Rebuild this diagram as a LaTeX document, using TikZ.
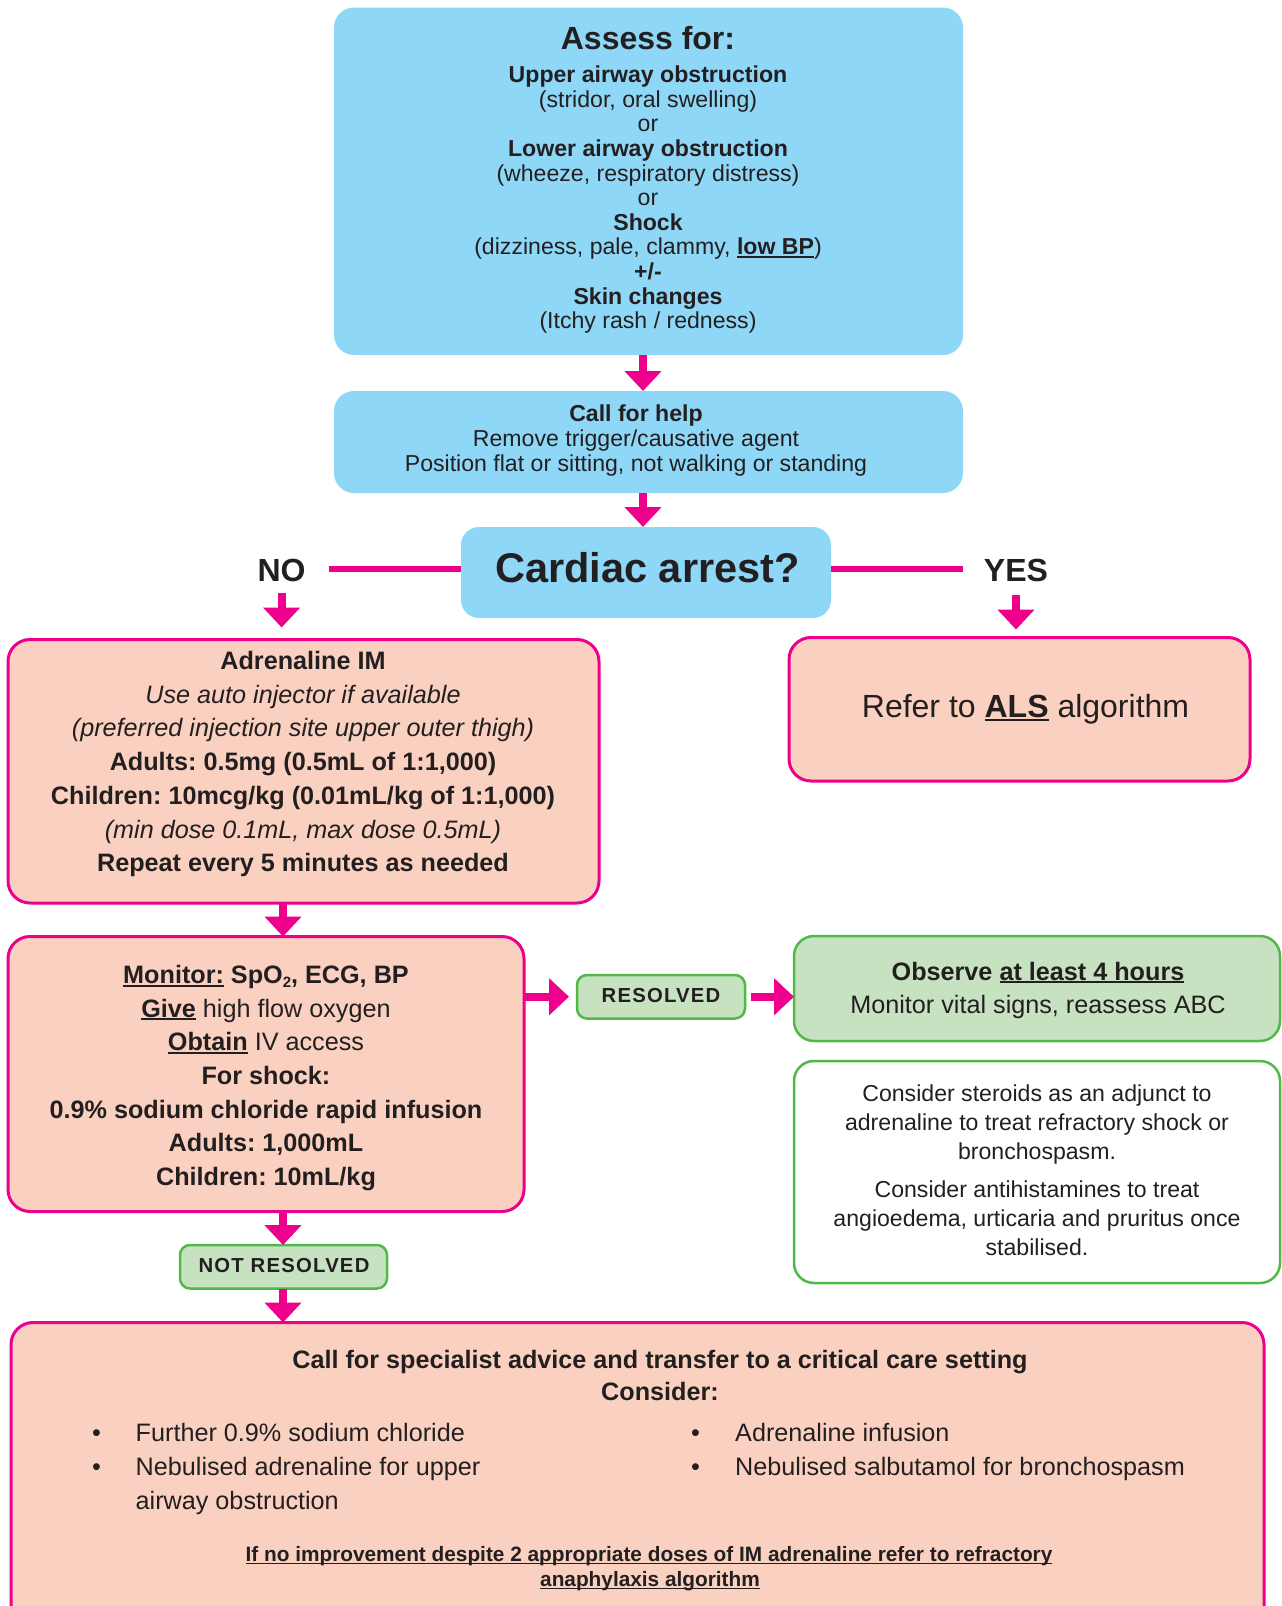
\documentclass[tikz,border=0pt]{standalone}
\usepackage{fontspec}
\setmainfont{Liberation Sans}
\usetikzlibrary{arrows.meta,calc}
\definecolor{cblue}{RGB}{142,215,247}
\definecolor{csalmon}{RGB}{250,209,192}
\definecolor{cpink}{RGB}{236,0,140}
\definecolor{cgreenf}{RGB}{199,226,193}
\definecolor{cgreenb}{RGB}{80,185,72}
\definecolor{ctext}{RGB}{35,31,32}
\frenchspacing
\newcommand\fs[2]{\fontsize{#1}{#2}\selectfont}
\newcommand\ulx[1]{\setbox0\hbox{#1}\rlap{\rule[-0.13em]{\wd0}{0.075em}}\box0\relax}
\tikzset{
 box/.style={rectangle, inner sep=0pt, outer sep=0pt},
 bluebox/.style={box, fill=cblue, rounded corners=20pt},
 pinkbox/.style={box, fill=csalmon, draw=cpink, line width=3pt, rounded corners=22pt},
 greenbox/.style={box, fill=cgreenf, draw=cgreenb, line width=2.5pt, rounded corners=20pt},
 notebox/.style={box, fill=white, draw=cgreenb, line width=2.5pt, rounded corners=20pt},
 tagbox/.style={box, fill=cgreenf, draw=cgreenb, line width=2.5pt, rounded corners=10pt},
 arr/.style={draw=cpink, line width=8pt, -{Triangle[width=36pt,length=20pt]}},
 pinkline/.style={draw=cpink, line width=6.5pt},
 tx/.style={anchor=base, inner sep=0pt, text=ctext},
 txl/.style={anchor=base west, inner sep=0pt, text=ctext},
 ta/.style={tx, font=\fs{23.1}{27}},
 tab/.style={tx, font=\fs{23.1}{27}\bfseries},
 tb/.style={tx, font=\fs{25.2}{29}},
 tbb/.style={tx, font=\fs{25.2}{29}\bfseries},
 tbi/.style={tx, font=\fs{25.2}{29}\itshape},
 tbl/.style={txl, font=\fs{25.2}{29}},
 tag/.style={tx, font=\fs{20.3}{24}\bfseries\addfontfeatures{LetterSpace=6}},
}
\begin{document}
\begin{tikzpicture}[x=1pt,y=-1pt]
\useasboundingbox (0,0) rectangle (1282,1606);

% boxes
\node[bluebox, minimum width=629pt, minimum height=347.5pt] (assess) at (648.5,181.25) {};
\node[bluebox, minimum width=629pt, minimum height=102pt] (call) at (648.5,442) {};
\node[bluebox, minimum width=370pt, minimum height=91pt, rounded corners=18pt] (cardiac) at (646,572.5) {};
\node[pinkbox, minimum width=591pt, minimum height=263.5pt] (adr) at (303.5,771.25) {};
\node[pinkbox, minimum width=461pt, minimum height=143.5pt] (refer) at (1019.5,709.25) {};
\node[pinkbox, minimum width=516pt, minimum height=275pt] (monitor) at (266,1074) {};
\node[tagbox, minimum width=168pt, minimum height=43.5pt] (resolved) at (661,996.75) {};
\node[greenbox, minimum width=486pt, minimum height=105pt] (observe) at (1037,988.5) {};
\node[notebox, minimum width=486pt, minimum height=222pt] (consider) at (1037,1172) {};
\node[tagbox, minimum width=207pt, minimum height=43.5pt] (notres) at (283.5,1266.75) {};
\node[pinkbox, minimum width=1253pt, minimum height=327pt] (bottom) at (637.5,1486) {};

% assess text
\node[tx, font=\fs{32}{36}\bfseries] (a0) at (648,49) {Assess for:};
\node[tab] (a1) at (648,82.7) {Upper airway obstruction};
\node[ta]  (a2) at (648,107.3) {(stridor, oral swelling)};
\node[ta]  (a3) at (648,131.9) {or};
\node[tab] (a4) at (648,156.5) {Lower airway obstruction};
\node[ta]  (a5) at (648,181.1) {(wheeze, respiratory distress)};
\node[ta]  (a6) at (648,205.7) {or};
\node[tab] (a7) at (648,230.3) {Shock};
\node[ta]  (a8) at (648,254.9) {(dizziness, pale, clammy, \textbf{\ulx{low BP}})};
\node[tab] (a9) at (648,279.5) {+/-};
\node[tab] (a10) at (648,304.1) {Skin changes};
\node[ta]  (a11) at (648,328.7) {(Itchy rash / redness)};

% call for help
\node[tab] (c1) at (636,421.7) {Call for help};
\node[ta]  (c2) at (636,446.4) {Remove trigger/causative agent};
\node[ta]  (c3) at (636,471) {Position flat or sitting, not walking or standing};

% cardiac arrest
\node[tx, font=\fs{41.5}{46}\bfseries] (ct) at (647.5,582.7) {Cardiac arrest?};
\node[tx, font=\fs{32}{36}\bfseries] (no) at (281.6,581.7) {NO};
\node[tx, font=\fs{32}{36}\bfseries] (yes) at (1016,581.7) {YES};
\coordinate (noL) at (329,569);
\coordinate (yesR) at (963,569);
\draw[pinkline] (cardiac.west |- noL) -- (noL);
\draw[pinkline] (cardiac.east |- yesR) -- (yesR);

% adrenaline text
\node[tbb] (d1) at (303,669.5) {Adrenaline IM};
\node[tbi] (d2) at (303,703.2) {Use auto injector if available};
\node[tbi] (d3) at (303,736.9) {(preferred injection site upper outer thigh)};
\node[tbb] (d4) at (303,770.6) {Adults: 0.5mg (0.5mL of 1:1,000)};
\node[tbb] (d5) at (303,804.3) {Children: 10mcg/kg (0.01mL/kg of 1:1,000)};
\node[tbi] (d6) at (303,838) {(min dose 0.1mL, max dose 0.5mL)};
\node[tbb] (d7) at (303,871.7) {Repeat every 5 minutes as needed};

% refer
\node[tx, font=\fs{32}{36}] (r1) at (1025.5,717.3) {Refer to \textbf{\ulx{ALS}} algorithm};

% monitor text
\node[tbb] (m1) at (266,983.3) {\ulx{Monitor:} SpO{\fs{15}{18}\raisebox{-0.25em}{2}}, ECG, BP};
\node[tb]  (m2) at (266,1017) {\textbf{\ulx{Give}} high flow oxygen};
\node[tb]  (m3) at (266,1050.7) {\textbf{\ulx{Obtain}} IV access};
\node[tbb] (m4) at (266,1084.4) {For shock:};
\node[tbb] (m5) at (266,1118.1) {0.9\% sodium chloride rapid infusion};
\node[tbb] (m6) at (266,1151.8) {Adults: 1,000mL};
\node[tbb] (m7) at (266,1185.5) {Children: 10mL/kg};

% tags
\node[tag] (rt) at (661,1002.7) {RESOLVED};
\node[tag] (nt) at (284,1272.7) {NOT RESOLVED};

% observe
\node[tbb] (o1) at (1038,980) {Observe \ulx{at least 4 hours}};
\node[tb]  (o2) at (1038,1013.3) {Monitor vital signs, reassess ABC};

% consider
\node[ta] (k1) at (1037,1101.7) {Consider steroids as an adjunct to};
\node[ta] (k2) at (1037,1130.7) {adrenaline to treat refractory shock or};
\node[ta] (k3) at (1037,1159.7) {bronchospasm.};
\node[ta] (k4) at (1037,1197.7) {Consider antihistamines to treat};
\node[ta] (k5) at (1037,1226.7) {angioedema, urticaria and pruritus once};
\node[ta] (k6) at (1037,1255.7) {stabilised.};

% bottom box
\node[tbb] (b1) at (660,1368.3) {Call for specialist advice and transfer to a critical care setting};
\node[tbb] (b2) at (660,1400) {Consider:};
\node[tbl] (bl1) at (92,1441.5) {•};
\node[tbl] (bt1) at (135.5,1441.5) {Further 0.9\% sodium chloride};
\node[tbl] (bl2) at (92,1475) {•};
\node[tbl] (bt2) at (135.5,1475) {Nebulised adrenaline for upper};
\node[tbl] (bt3) at (135.5,1509.3) {airway obstruction};
\node[tbl] (br1) at (691,1441.5) {•};
\node[tbl] (bs1) at (735,1441.5) {Adrenaline infusion};
\node[tbl] (br2) at (691,1475) {•};
\node[tbl] (bs2) at (735,1475) {Nebulised salbutamol for bronchospasm};
\node[tx, font=\fs{20.8}{25}\bfseries] (f1) at (649,1561.5) {\ulx{If no improvement despite 2 appropriate doses of IM adrenaline refer to refractory}};
\node[tx, font=\fs{20.8}{25}\bfseries] (f2) at (650,1586.7) {\ulx{anaphylaxis algorithm}};

% connectors
\coordinate (ax1) at (643,0);
\coordinate (ax2) at (283,0);
\draw[arr] (assess.south -| ax1) -- (call.north -| ax1);
\draw[arr] (call.south -| ax1) -- (cardiac.north -| ax1);
\draw[arr] ([yshift=-11pt]no.south) -- ($(adr.north -| no.south)+(0,-12)$);
\draw[arr] ([yshift=-13pt]yes.south) -- ($(refer.north -| yes.south)+(0,-8)$);
\draw[arr] (adr.south -| ax2) -- (monitor.north -| ax2);
\draw[arr] (monitor.east |- resolved.west) -- ($(resolved.west)+(-8,0)$);
\draw[arr] ($(resolved.east)+(6,0)$) -- (observe.west |- resolved.east);
\draw[arr] (monitor.south -| ax2) -- (notres.north -| ax2);
\draw[arr] (notres.south -| ax2) -- (bottom.north -| ax2);
\end{tikzpicture}
\end{document}
